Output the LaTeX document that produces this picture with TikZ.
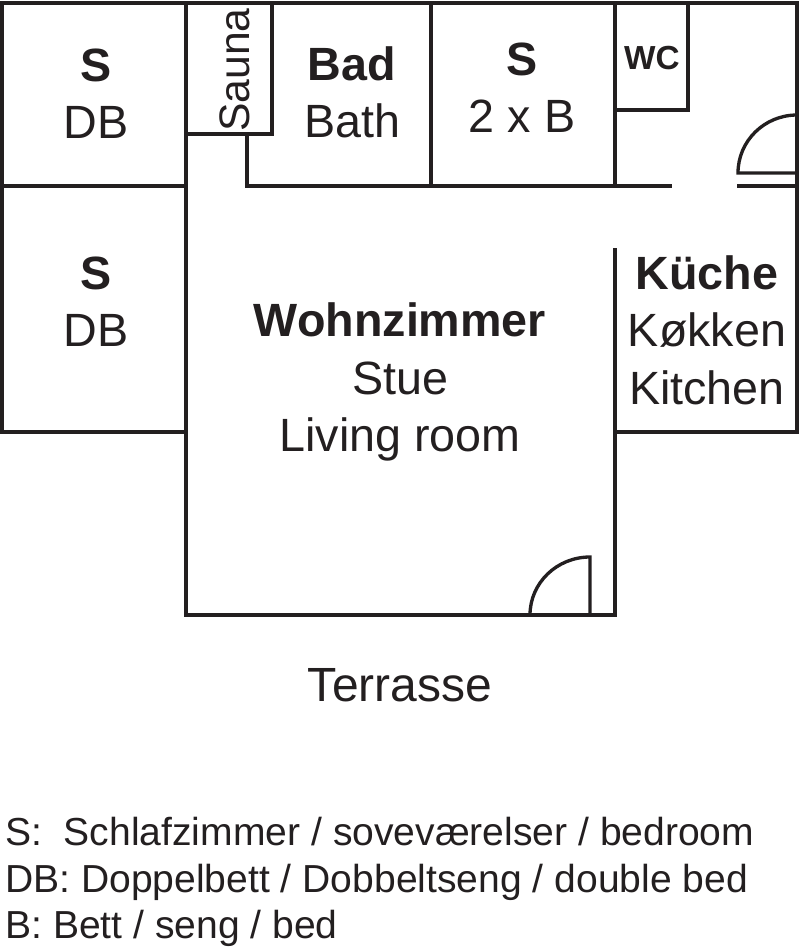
\documentclass[tikz,border=0pt]{standalone}
\usepackage{xcolor}
\usepackage{fontspec}
\setmainfont{Liberation Sans}
\definecolor{wallgray}{HTML}{231F20}
\tikzset{
  wall/.style={draw=wallgray, line width=3.5pt, line cap=rect, line join=miter},
  doorline/.style={draw=wallgray, line width=2.5pt},
  room/.style={align=center, font=\fontsize{35}{43}\selectfont, inner sep=0pt, text=wallgray},
  legend/.style={anchor=base west, font=\fontsize{29.3}{30}\selectfont, inner sep=0pt, text=wallgray}
}
\begin{document}
\begin{tikzpicture}[x=0.75pt, y=-0.75pt]
        \useasboundingbox (0,0) rectangle (800,947);

        % Outer walls
        \draw[wall] (186,432) -- (2,432) -- (2,3) -- (797,3) -- (797,432) -- (615,432);
        \draw[wall] (186,3) -- (186,615) -- (615,615) -- (615,250);

        % Inner walls
        \draw[wall] (2,186) -- (186,186);
        \draw[wall] (615,3) -- (615,186);
        \draw[wall] (670,186) -- (247,186) -- (247,134);
        \draw[wall] (186,134) -- (272,134) -- (272,3);
        \draw[wall] (431,3) -- (431,186);
        \draw[wall] (615,110) -- (688,110) -- (688,3);
        \draw[wall] (739,186) -- (797,186);

        % Doors
        \draw[doorline] (797,173) -- (738,173) arc[start angle=180, end angle=270, x radius=59, y radius=58];
        \draw[doorline] (530,615) arc[start angle=180, end angle=270, x radius=60, y radius=58] -- (590,615);

        % Room labels
        \node[room] (bedone) at (96,94) {\textbf{S}\\DB};
        \node[room] (bedtwo) at (96,302) {\textbf{S}\\DB};
        \node[room, rotate=90, font=\fontsize{32}{43}\selectfont] (sauna) at (235,70) {Sauna};
        \node[room] (bath) at (352,92) {\textbf{Bad}\\Bath};
        \node[room] (bedthree) at (522,88) {\textbf{S}\\2 x B};
        \node[room, font=\fontsize{25}{30}\selectfont\bfseries] (wc) at (652,58) {WC};
        \node[room] (kitchen) at (707,330) {\textbf{Küche}\\Køkken\\Kitchen};
        \node[room] (living) at (400,382) {\textbf{Wohnzimmer}\\Stue\\Living room};
        \node[room, font=\fontsize{36}{43}\selectfont] (terrace) at (400,685) {Terrasse};

        % Legend
        \node[legend] (legendone) at (5,845) {S:\ \ Schlafzimmer / soveværelser / bedroom};
        \node[legend] (legendtwo) at (5,892) {DB: Doppelbett / Dobbeltseng / double bed};
        \node[legend] (legendthree) at (5,938) {B: Bett / seng / bed};
    \end{tikzpicture}
\end{document}
